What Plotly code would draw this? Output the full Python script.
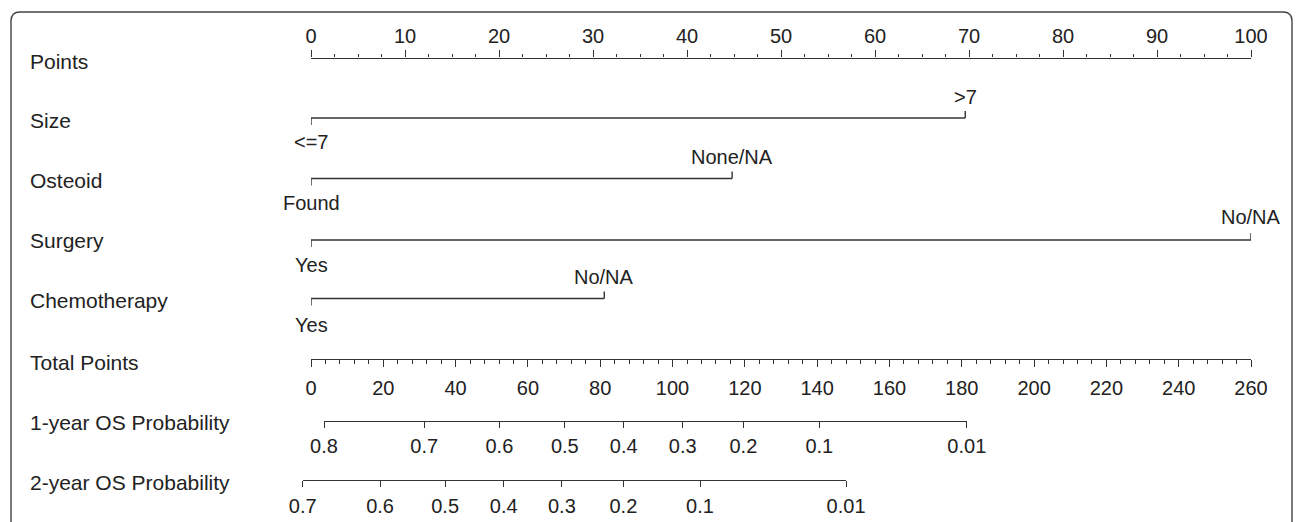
import plotly.graph_objects as go

W, H = 1296, 522

# ---------------- data ----------------
row_names = ["Points", "Size", "Osteoid", "Surgery", "Chemotherapy",
             "Total Points", "1-year OS Probability", "2-year OS Probability"]

points_range = [0, 100]
points_tickvals = list(range(0, 101, 10))

size_levels = ["<=7", ">7"]
size_points = [0, 69.6]
osteoid_levels = ["Found", "None/NA"]
osteoid_points = [0, 44.8]
surgery_levels = ["Yes", "No/NA"]
surgery_points = [0, 100]
chemo_levels = ["Yes", "No/NA"]
chemo_points = [0, 31.2]

total_range = [0, 260]
total_tickvals = list(range(0, 261, 20))

os1_labels = ["0.8", "0.7", "0.6", "0.5", "0.4", "0.3", "0.2", "0.1", "0.01"]
os1_total = [3.6, 31.3, 52.1, 70.2, 86.5, 102.8, 119.6, 140.6, 181.4]
os2_labels = ["0.7", "0.6", "0.5", "0.4", "0.3", "0.2", "0.1", "0.01"]
os2_total = [-2.3, 19.1, 37.1, 53.3, 69.4, 86.4, 107.6, 148.0]

# ---------------- layout constants (pixels) ----------------
X0, X1 = 311, 1251          # pixel span of the Points / Total Points scales
LINE = "#333333"
TXT = "#222222"
FONT = "Liberation Sans, Arial, sans-serif"
row_label_y = [61, 120, 180, 240, 300, 362, 422, 482]
axis_y = {"points": 57.5, "total": 359, "os1": 421, "os2": 480}
var_rows = [
    (size_levels, size_points, 118, 142, 97),
    (osteoid_levels, osteoid_points, 178.5, 203, 157),
    (surgery_levels, surgery_points, 240, 265, 217),
    (chemo_levels, chemo_points, 298.5, 325, 277),
]
TICK = 7


def px_dom(lo, hi, rng, x0=X0, x1=X1):
    k = (x1 - x0) / (rng[1] - rng[0])
    return [(x0 + (lo - rng[0]) * k) / W, (x0 + (hi - rng[0]) * k) / W]


fig = go.Figure()

# variable rows: line with end ticks (low level tick down, high level tick up)
annotations = []
for levels, pts, ly, lab_lo_y, lab_hi_y in var_rows:
    xs = [pts[0], pts[0], None, pts[0], pts[-1], None, pts[-1], pts[-1]]
    ys = [ly + TICK, ly, None, ly, ly, None, ly, ly - TICK]
    fig.add_trace(go.Scatter(x=xs, y=ys, mode="lines", xaxis="x", yaxis="y",
                             line=dict(color=LINE, width=1.4), hoverinfo="skip",
                             showlegend=False))
    annotations.append(dict(x=pts[0], y=lab_lo_y, xref="x", yref="y", text=levels[0],
                            showarrow=False, xanchor="center", yanchor="middle",
                            font=dict(size=20, color=TXT, family=FONT)))
    annotations.append(dict(x=pts[-1], y=lab_hi_y, xref="x", yref="y", text=levels[-1],
                            showarrow=False, xanchor="center", yanchor="middle",
                            font=dict(size=20, color=TXT, family=FONT)))

# invisible anchors so each scale axis gets drawn
fig.add_trace(go.Scatter(x=total_range, y=[axis_y["total"]] * 2, xaxis="x2", yaxis="y",
                         mode="markers", marker=dict(opacity=0), hoverinfo="skip", showlegend=False))
fig.add_trace(go.Scatter(x=os1_total, y=[axis_y["os1"]] * len(os1_total), xaxis="x3", yaxis="y",
                         mode="markers", marker=dict(opacity=0), hoverinfo="skip", showlegend=False))
fig.add_trace(go.Scatter(x=os2_total, y=[axis_y["os2"]] * len(os2_total), xaxis="x4", yaxis="y",
                         mode="markers", marker=dict(opacity=0), hoverinfo="skip", showlegend=False))

for name, yy in zip(row_names, row_label_y):
    annotations.append(dict(x=28 / W, y=yy, xref="paper", yref="y", text=name,
                            showarrow=False, xanchor="left", yanchor="middle",
                            font=dict(size=21, color=TXT, family=FONT)))

common = dict(showgrid=False, zeroline=False, showline=True, linecolor=LINE, linewidth=1.4,
              ticks="outside", tickcolor=LINE, tickwidth=1.3, anchor="free", automargin=False,
              tickfont=dict(size=20, color=TXT, family=FONT), fixedrange=True)

tot_k = (X1 - X0) / (total_range[1] - total_range[0])

fig.update_layout(
    template="none",
    width=W, height=H, autosize=False,
    margin=dict(l=0, r=0, t=0, b=0, pad=0, autoexpand=False),
    paper_bgcolor="white", plot_bgcolor="rgba(0,0,0,0)",
    xaxis=dict(domain=px_dom(*points_range, points_range), range=points_range,
               side="top", position=1 - axis_y["points"] / H, tickmode="array",
               tickvals=points_tickvals, ticklen=7.5, ticklabelstandoff=-1,
               minor=dict(dtick=2.5, ticks="outside", ticklen=3.5, tickcolor=LINE, tickwidth=1.2,
                          showgrid=False),
               **common),
    xaxis2=dict(domain=px_dom(*total_range, total_range), range=total_range,
                side="bottom", position=1 - axis_y["total"] / H, tickmode="array",
                tickvals=total_tickvals, ticklen=7, ticklabelstandoff=4,
                minor=dict(dtick=4, ticks="outside", ticklen=4, tickcolor=LINE, tickwidth=1.2,
                           showgrid=False),
                **common),
    xaxis3=dict(domain=[(X0 + os1_total[0] * tot_k) / W, (X0 + os1_total[-1] * tot_k) / W],
                range=[os1_total[0], os1_total[-1]],
                side="bottom", position=1 - axis_y["os1"] / H, tickmode="array",
                tickvals=os1_total, ticktext=os1_labels, ticklen=6, ticklabelstandoff=1,
                **common),
    xaxis4=dict(domain=[(X0 + os2_total[0] * tot_k) / W, (X0 + os2_total[-1] * tot_k) / W],
                range=[os2_total[0], os2_total[-1]],
                side="bottom", position=1 - axis_y["os2"] / H, tickmode="array",
                tickvals=os2_total, ticktext=os2_labels, ticklen=6, ticklabelstandoff=2,
                **common),
    yaxis=dict(domain=[0, 1], range=[H, 0], visible=False, showgrid=False, zeroline=False,
               fixedrange=True, automargin=False),
    annotations=annotations,
    showlegend=False,
)

# rounded frame (open at the bottom)
bl, bt, br, r = 11, 12, 1292, 9


def P(x, y):
    return f"{x / W:.5f},{1 - y / H:.5f}"


frame = (f"M {P(bl, H + 20)} L {P(bl, bt + r)} Q {P(bl, bt)} {P(bl + r, bt)} "
         f"L {P(br - r, bt)} Q {P(br, bt)} {P(br, bt + r)} L {P(br, H + 20)}")
fig.add_shape(type="path", path=frame, xref="paper", yref="paper",
              line=dict(color="#444444", width=1.4), layer="above")

fig.write_html("out.html")
